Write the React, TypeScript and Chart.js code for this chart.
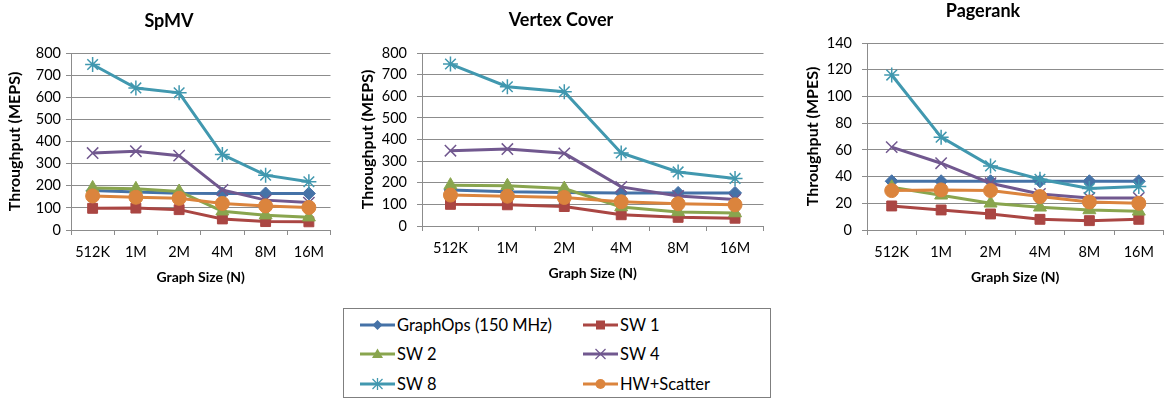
import React, { useEffect, useRef } from "react";
import { Chart, registerables } from "chart.js";

Chart.register(...registerables);

// ---------- data ----------
const categories = ["512K", "1M", "2M", "4M", "8M", "16M"];
const seriesNames = ["GraphOps (150 MHz)", "SW 1", "SW 2", "SW 4", "SW 8", "HW+Scatter"];
const seriesColors = ["#4572A7", "#AA4643", "#89A54E", "#71588F", "#4198AF", "#DB843D"];

const spmvGraphOps = [178, 172, 166, 165, 165, 165];
const spmvSW1 = [98, 99, 92, 50, 38, 37];
const spmvSW2 = [190, 186, 174, 85, 67, 58];
const spmvSW4 = [348, 356, 336, 181, 135, 124];
const spmvSW8 = [748, 642, 620, 341, 248, 218];
const spmvHW = [154, 148, 143, 120, 109, 102];

const vcGraphOps = [167, 158, 155, 153, 153, 153];
const vcSW1 = [100, 98, 90, 52, 40, 36];
const vcSW2 = [189, 186, 173, 88, 65, 60];
const vcSW4 = [348, 356, 336, 181, 139, 122];
const vcSW8 = [749, 644, 621, 338, 250, 220];
const vcHW = [143, 138, 132, 112, 103, 98];

const prGraphOps = [36.5, 36.5, 36.5, 36.5, 36.5, 36.5];
const prSW1 = [18, 15, 12, 8, 7, 8];
const prSW2 = [32, 26, 20, 17, 15, 14];
const prSW4 = [62, 50, 35, 27, 24, 24];
const prSW8 = [116, 69.5, 48, 38, 31, 32.5];
const prHW = [29.5, 30, 29.5, 25, 21, 20];

const panelTitles = ["SpMV", "Vertex Cover", "Pagerank"];
const yAxisTitles = ["Throughput (MEPS)", "Throughput (MEPS)", "Throughput (MPES)"];
const xAxisTitle = "Graph Size (N)";
const yMaxes = [800, 800, 140];
const ySteps = [100, 100, 20];

// ---------- styles ----------
const FONT = "Lato, 'Open Sans', 'DejaVu Sans', sans-serif";
const GRID = "#8c8c8c";
const pointStyles = ["rectRot", "rect", "triangle", "crossRot", "star", "circle"];
const pointRadii = [6.5, 7, 7.5, 8, 7.5, 7];
const pointBorders = [1, 1, 1, 1.5, 1.5, 1];

type Layout = {
  left: number; top: number; w: number; h: number;
  yWidth: number; titleTop: number; titleBottom: number;
  yTitlePad: number; yTickPad: number; xHeight: number;
};

const layouts: Layout[] = [
  { left: 0, top: 0, w: 340, h: 292, yWidth: 71, titleTop: 10.2, titleBottom: 21.2, yTitlePad: 5.4, yTickPad: 5, xHeight: 62 },
  { left: 351, top: 0, w: 422, h: 288, yWidth: 71, titleTop: 9.2, titleBottom: 22.2, yTitlePad: 7.4, yTickPad: 10, xHeight: 62 },
  { left: 795, top: 0, w: 378, h: 292, yWidth: 72, titleTop: 0, titleBottom: 21.4, yTitlePad: 8.4, yTickPad: 10, xHeight: 62 },
];

const panelData = [
  [spmvGraphOps, spmvSW1, spmvSW2, spmvSW4, spmvSW8, spmvHW],
  [vcGraphOps, vcSW1, vcSW2, vcSW4, vcSW8, vcHW],
  [prGraphOps, prSW1, prSW2, prSW4, prSW8, prHW],
];

function Panel({ idx }: { idx: number }) {
  const ref = useRef<HTMLCanvasElement | null>(null);
  const L = layouts[idx];
  useEffect(() => {
    if (!ref.current) return;
    const datasets = panelData[idx].map((vals, i) => ({
      label: seriesNames[i],
      data: vals,
      borderColor: seriesColors[i],
      backgroundColor: seriesColors[i],
      borderWidth: 3,
      tension: 0,
      pointStyle: pointStyles[i] as any,
      pointRadius: pointRadii[i],
      pointBackgroundColor: seriesColors[i],
      pointBorderColor: seriesColors[i],
      pointBorderWidth: pointBorders[i],
      order: 5 - i,
    }));
    const chart = new Chart(ref.current, {
      type: "line",
      data: { labels: categories, datasets },
      options: {
        responsive: false,
        animation: false,
        devicePixelRatio: 1,
        layout: { padding: { left: 0, right: 2, top: 0, bottom: 0 } },
        plugins: {
          legend: { display: false },
          tooltip: { enabled: false },
          title: {
            display: true,
            text: panelTitles[idx],
            color: "#000",
            font: { family: FONT, size: 18, weight: "bold" },
            padding: { top: L.titleTop, bottom: L.titleBottom },
          },
        },
        scales: {
          x: {
            type: "category",
            offset: true,
            afterFit: (s: any) => { s.height = L.xHeight; },
            grid: { display: true, drawOnChartArea: false, drawTicks: true, tickLength: 5, color: GRID, offset: true },
            border: { display: true, color: GRID, width: 1 },
            ticks: { color: "#000", font: { family: FONT, size: 14.5 }, padding: 8.5, maxRotation: 0, autoSkip: false },
            title: {
              display: true, text: xAxisTitle, color: "#000",
              font: { family: FONT, size: 14, weight: "bold" },
              padding: { top: 0, bottom: 6.6 },
            },
          },
          y: {
            min: 0, max: yMaxes[idx],
            afterFit: (s: any) => { s.width = L.yWidth; },
            grid: { display: true, drawOnChartArea: true, drawTicks: true, tickLength: 5, color: GRID },
            border: { display: true, color: GRID, width: 1 },
            ticks: { stepSize: ySteps[idx], color: "#000", font: { family: FONT, size: 14.5 }, padding: L.yTickPad },
            title: {
              display: true, text: yAxisTitles[idx], color: "#000",
              font: { family: FONT, size: 16, weight: "bold" },
              padding: { top: L.yTitlePad, bottom: 0 },
            },
          },
        },
      },
    });
    return () => chart.destroy();
  }, [idx]);
  return (
    <canvas
      ref={ref}
      width={L.w}
      height={L.h}
      style={{ position: "absolute", left: L.left, top: L.top, width: L.w, height: L.h }}
    />
  );
}

function Marker({ i }: { i: number }) {
  const c = seriesColors[i];
  const cx = 17.5, cy = 8;
  let m: React.ReactNode = null;
  if (i === 0) m = <polygon points={`${cx},${cy - 5} ${cx + 5},${cy} ${cx},${cy + 5} ${cx - 5},${cy}`} fill={c} />;
  if (i === 1) m = <rect x={cx - 4.5} y={cy - 4.5} width={9} height={9} fill={c} />;
  if (i === 2) m = <polygon points={`${cx},${cy - 5.5} ${cx + 5.5},${cy + 4} ${cx - 5.5},${cy + 4}`} fill={c} />;
  if (i === 3) m = (
    <g stroke={c} strokeWidth={1.3}>
      <line x1={cx - 5} y1={cy - 5} x2={cx + 5} y2={cy + 5} />
      <line x1={cx - 5} y1={cy + 5} x2={cx + 5} y2={cy - 5} />
    </g>
  );
  if (i === 4) m = (
    <g stroke={c} strokeWidth={1.3}>
      <line x1={cx - 5} y1={cy - 5} x2={cx + 5} y2={cy + 5} />
      <line x1={cx - 5} y1={cy + 5} x2={cx + 5} y2={cy - 5} />
      <line x1={cx} y1={cy - 6} x2={cx} y2={cy + 6} />
    </g>
  );
  if (i === 5) m = <circle cx={cx} cy={cy} r={5} fill={c} />;
  return (
    <svg width={37} height={16} style={{ display: "block", flex: "none" }}>
      <line x1={0} y1={cy} x2={35} y2={cy} stroke={c} strokeWidth={3} />
      {m}
    </svg>
  );
}

const legendRows = [325, 354, 384];
const legendCols = [360, 583];

export default function App() {
  return (
    <div style={{ position: "fixed", left: 0, top: 0, width: 1165, height: 401, overflow: "hidden", background: "#fff" }}>
      <Panel idx={0} />
      <Panel idx={1} />
      <Panel idx={2} />
      <div
        style={{
          position: "absolute", left: 343, top: 308, width: 428, height: 90,
          boxSizing: "border-box", border: "1px solid #7f7f7f",
        }}
      />
      {seriesNames.map((name, i) => (
        <div
          key={name}
          style={{
            position: "absolute",
            left: legendCols[i % 2],
            top: legendRows[Math.floor(i / 2)] - 10,
            height: 20,
            display: "flex",
            alignItems: "center",
            fontFamily: FONT,
            fontSize: 16.5,
            color: "#000",
            whiteSpace: "nowrap",
          }}
        >
          <Marker i={i} />
          <span>{name}</span>
        </div>
      ))}
    </div>
  );
}
